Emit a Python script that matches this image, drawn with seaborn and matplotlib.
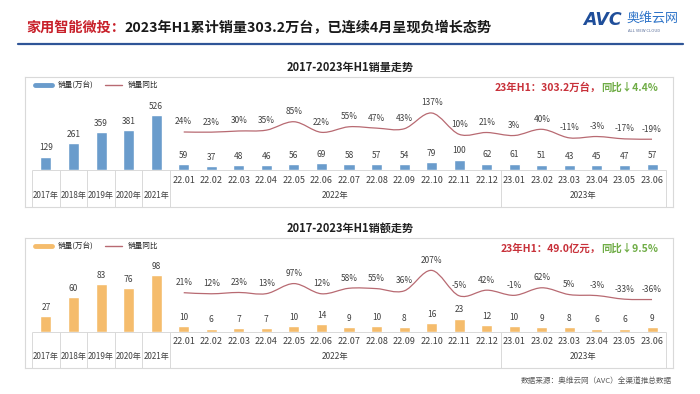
import numpy as np
import pandas as pd
import seaborn as sns
import matplotlib.pyplot as plt
from matplotlib.lines import Line2D
from matplotlib.path import Path
from matplotlib.patches import PathPatch

# categories
years = ["2017年", "2018年", "2019年", "2020年", "2021年"]
months = ["22.01", "22.02", "22.03", "22.04", "22.05", "22.06", "22.07", "22.08", "22.09",
          "22.10", "22.11", "22.12", "23.01", "23.02", "23.03", "23.04", "23.05", "23.06"]

# sales volume (10k units) and yoy %
vol_year = [129, 261, 359, 381, 526]
vol_month = [59, 37, 48, 46, 56, 69, 58, 57, 54, 79, 100, 62, 61, 51, 43, 45, 47, 57]
vol_yoy = [24, 23, 30, 35, 85, 22, 55, 47, 43, 137, 10, 21, 3, 40, -11, -3, -17, -19]

# sales amount and yoy %
amt_year = [27, 60, 83, 76, 98]
amt_month = [10, 6, 7, 7, 10, 14, 9, 10, 8, 16, 23, 12, 10, 9, 8, 6, 6, 9]
amt_yoy = [21, 12, 23, 13, 97, 12, 58, 55, 36, 207, -5, 42, -1, 62, 5, -3, -33, -36]

sns.set_theme(style="white")
plt.rcParams["font.family"] = ["Noto Sans CJK SC", "DejaVu Sans"]

W, H = 700, 394
fig = plt.figure(figsize=(7, 3.94), dpi=100)
line_col = "#B86A72"
txt_col = "#404040"


def smooth_path(xs, ys):
    # smooth curve through the points, like excel's smoothed line
    pts = np.column_stack([xs, ys]).astype(float)
    verts = [pts[0]]
    codes = [Path.MOVETO]
    n = len(pts)
    for i in range(n - 1):
        p0 = pts[max(i - 1, 0)]
        p1 = pts[i]
        p2 = pts[i + 1]
        p3 = pts[min(i + 2, n - 1)]
        verts += [p1 + (p2 - p0) / 6, p2 - (p3 - p1) / 6, p2]
        codes += [Path.CURVE4] * 3
    return Path(verts, codes)


def panel(top_px, year_vals, month_vals, yoy, color, title, note_red, note_green, bar_lim, line_lim):
    rect = [25 / W, (H - top_px - 130) / H, 648 / W, 130 / H]
    ax = fig.add_axes(rect)
    df = pd.DataFrame({"period": years + months, "value": year_vals + month_vals})
    sns.barplot(data=df, x="period", y="value", color=color, width=0.4, saturation=1, ax=ax)
    ax.bar_label(ax.containers[0], padding=3, fontsize=6, color=txt_col)
    ax.set_ylim(bar_lim)

    ax2 = ax.twinx()
    xm = np.arange(len(years), len(years) + len(months))
    ax2.add_patch(PathPatch(smooth_path(xm, yoy), fill=False, ec=line_col, lw=0.9))
    for x, v in zip(xm, yoy):
        ax2.annotate(f"{v}%", (x, v), xytext=(0, 4), textcoords="offset points",
                     ha="center", va="bottom", fontsize=6, color=txt_col)
    ax2.set_ylim(line_lim)
    ax.set_xlim(-0.762, 22.762)

    for a in (ax, ax2):
        a.set_xticks([])
        a.set_yticks([])
        a.set_xlabel("")
        a.set_ylabel("")
    for s in ax.spines.values():
        s.set_color("#d9d9d9")
        s.set_linewidth(0.8)
    for s in ax2.spines.values():
        s.set_visible(False)

    # category table under the bars
    ax.hlines(0, -0.5, 22.5, color="#d9d9d9", lw=0.7)
    ax.vlines([-0.5, 0.5, 1.5, 2.5, 3.5, 4.5, 16.5, 22.5], bar_lim[0], 0, color="#d9d9d9", lw=0.7)
    tr = ax.get_xaxis_transform()
    for x, lab in zip(xm, months):
        ax.text(x, 0.207, lab, transform=tr, ha="center", va="center", fontsize=6.5, color=txt_col)
    for x, lab in enumerate(years):
        ax.text(x, 0.085, lab, transform=tr, ha="center", va="center", fontsize=5.8, color=txt_col)
    ax.text(10.5, 0.085, "2022年", transform=tr, ha="center", va="center", fontsize=6, color=txt_col)
    ax.text(19.5, 0.085, "2023年", transform=tr, ha="center", va="center", fontsize=6, color=txt_col)

    handles = [Line2D([], [], color=color, lw=3.5), Line2D([], [], color=line_col, lw=1)]
    ax2.legend(handles, ["销量(万台)", "销量同比"], loc="upper left", bbox_to_anchor=(0.005, 1.02),
               ncol=2, frameon=False, fontsize=5.5, handlelength=2.2, columnspacing=1.5)

    green = ax2.text(0.977, 0.92, note_green, transform=ax2.transAxes, ha="right", va="center",
                     fontsize=7.5, color="#70AD47", fontweight="bold")
    ax2.annotate(note_red, xy=(0, 0.5), xycoords=green, ha="right", va="center",
                 fontsize=7.5, color="#C8313A", fontweight="bold")

    fig.text(0.5, 1 - (top_px - 10) / H, title, ha="center", va="center",
             fontsize=8, fontweight="bold", color="#202020")


panel(77, vol_year, vol_month, vol_yoy, "#6A9CCC", "2017-2023年H1销量走势",
      "23年H1：303.2万台，", "同比↓4.4%", (-353.9, 889.4), (-422.2, 351.1))
panel(238, amt_year, amt_month, amt_yoy, "#F5BC6C", "2017-2023年H1销额走势",
      "23年H1：49.0亿元，", "同比↓9.5%", (-61.9, 161.6), (-606.5, 476.8))

# header
red = fig.text(26 / W, 1 - 28 / H, "家用智能微投：", ha="left", va="center",
               fontsize=10.2, fontweight="bold", color="#C8202A")
fig.add_artist(plt.Annotation("2023年H1累计销量303.2万台，已连续4月呈现负增长态势", xy=(1, 0),
                              xycoords=red, ha="left", va="bottom", fontsize=10.2,
                              fontweight="bold", color="#1a1a1a"))
fig.add_artist(Line2D([18 / W, 683 / W], [1 - 44 / H, 1 - 44 / H], transform=fig.transFigure,
                      color="#2F5597", lw=1.6))

# logo
fig.text(583 / W, 1 - 20 / H, "AVC", ha="left", va="center", fontsize=12.5,
         fontweight="bold", fontstyle="italic", color="#1F4E9A", family="DejaVu Sans")
fig.text(626 / W, 1 - 18 / H, "奥维云网", ha="left", va="center", fontsize=9.4, color="#2E74C8")
fig.text(628 / W, 1 - 31 / H, "ALL VIEW CLOUD", ha="left", va="center", fontsize=3, color="#5a6f9a")

# source
fig.text(672 / W, 1 - 381 / H, "数据来源：奥维云网（AVC）全渠道推总数据", ha="right", va="center",
         fontsize=5.5, color="#595959")

fig.savefig("out.png", dpi=100)
